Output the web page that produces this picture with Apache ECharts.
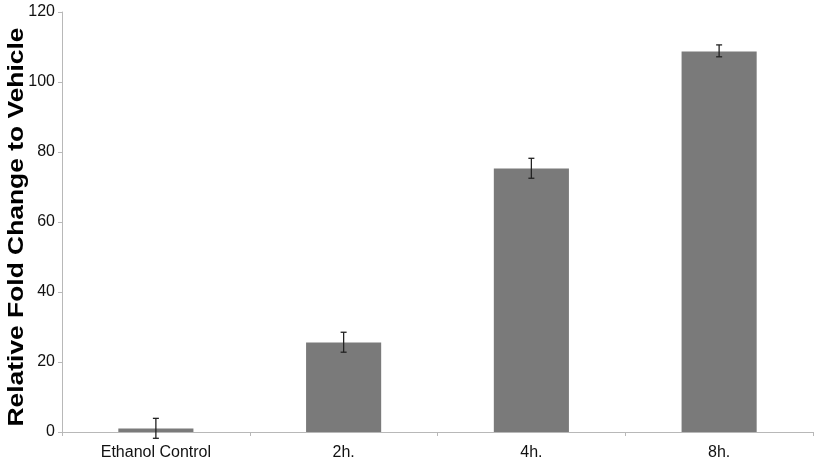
<!DOCTYPE html>
<html><head><meta charset="utf-8">
<script src="https://cdn.jsdelivr.net/npm/echarts@6/dist/echarts.min.js"></script>
<style>html,body{margin:0;padding:0;background:#fff}#c{width:815px;height:464px}</style>
</head><body><div id="c"></div>
<script>
var categories = ['Ethanol Control', '2h.', '4h.', '8h.'];
var values = [1.0, 25.6, 75.3, 108.7];
var errLow = [-1.8, 22.8, 72.5, 107.2];
var errHigh = [3.9, 28.5, 78.2, 110.6];
var yTicks = [0, 20, 40, 60, 80, 100, 120];
var yTitle = 'Relative Fold Change to Vehicle';

var chart = echarts.init(document.getElementById('c'));
var errData = categories.map(function (c, i) { return [i, errLow[i], errHigh[i]]; });
chart.setOption({
  animation: false,
  grid: { left: 62, right: 2, top: 12, bottom: 32, containLabel: false, outerBoundsMode: 'none' },
  graphic: [{
    type: 'text', x: 17, y: 227, rotation: Math.PI / 2, scaleX: 1.2,
    style: { text: yTitle, fontSize: 22, fontWeight: 'bold', fill: '#000',
      fontFamily: 'Liberation Sans, Arial', textAlign: 'center', textVerticalAlign: 'middle' }
  }],
  xAxis: {
    type: 'category', data: categories,
    axisLine: { lineStyle: { color: '#b8b8b8', width: 1 } },
    axisTick: { show: true, length: 4, lineStyle: { color: '#b8b8b8' } },
    axisLabel: { color: '#111', fontSize: 16, fontFamily: 'Liberation Sans, Arial', margin: 13 }
  },
  yAxis: {
    type: 'value', min: 0, max: 120, interval: 20,
    axisLine: { show: true, lineStyle: { color: '#b8b8b8', width: 1 } },
    axisTick: { show: true, length: 4, lineStyle: { color: '#b8b8b8' } },
    splitLine: { show: false },
    axisLabel: { color: '#111', fontSize: 16, fontFamily: 'Liberation Sans, Arial', margin: 7,
      formatter: function (v) { return yTicks.indexOf(v) >= 0 ? String(v) : ''; } }
  },
  series: [
    { type: 'bar', data: values, barWidth: '40%', itemStyle: { color: '#7a7a7a' } },
    { type: 'custom', data: errData, z: 10,
      renderItem: function (params, api) {
        var x = api.value(0);
        var lo = api.coord([x, api.value(1)]);
        var hi = api.coord([x, api.value(2)]);
        var cap = 3;
        var st = { stroke: '#222', lineWidth: 1.3 };
        return { type: 'group', children: [
          { type: 'line', shape: { x1: lo[0], y1: lo[1], x2: hi[0], y2: hi[1] }, style: st },
          { type: 'line', shape: { x1: lo[0] - cap, y1: lo[1], x2: lo[0] + cap, y2: lo[1] }, style: st },
          { type: 'line', shape: { x1: hi[0] - cap, y1: hi[1], x2: hi[0] + cap, y2: hi[1] }, style: st }
        ] };
      }
    }
  ]
});
</script></body></html>
